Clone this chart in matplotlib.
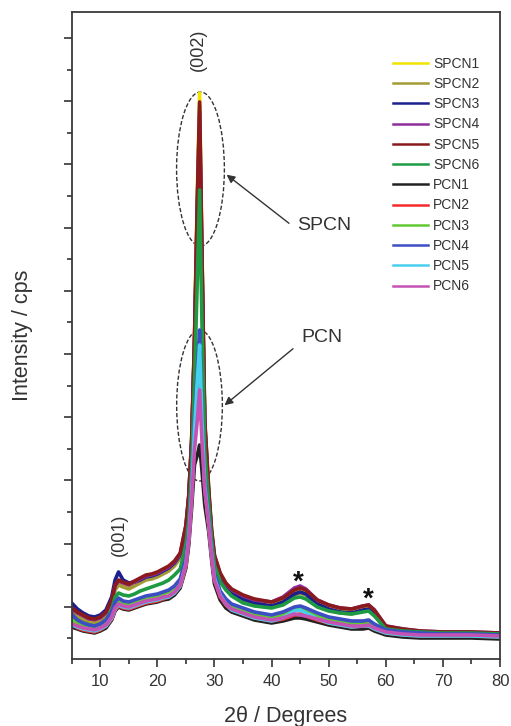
import matplotlib
matplotlib.use("Agg")
import matplotlib.pyplot as plt
from matplotlib.patches import Ellipse
from matplotlib.ticker import MultipleLocator, NullFormatter

plt.rcParams['font.family'] = ['Liberation Sans', 'DejaVu Sans']

# 2-theta grid (degrees), denser round the (002) peak
two_theta = [5, 6, 7, 8, 9, 10, 11, 12,
             12.6, 13.2,
             14, 15, 16, 17, 18, 19, 20, 21, 22, 23, 24,
             25, 25.5, 26, 26.5, 27, 27.4, 27.8, 28.3, 29, 29.5, 30,
             31, 32, 33, 35, 37, 40,
             42, 44, 45, 46, 48, 50,
             52, 54, 56, 57, 58, 60,
             63, 66, 70, 75, 80]

# intensities (cps)
spcn1 = [590, 550, 520, 490, 480, 500, 550, 670,
         820, 870,
         850, 830, 860, 890, 920, 930, 950, 980, 1010, 1060, 1140,
         1420, 1720, 2280, 3330, 4800, 5770, 4250, 2480, 1770, 1370, 1120,
         940, 840, 780, 720, 680, 650,
         690, 770, 790, 770, 670, 620,
         590, 580, 610, 620, 570, 420,
         390, 370, 360, 360, 350]
spcn2 = [570, 530, 500, 470, 460, 480, 530, 650,
         800, 850,
         830, 810, 840, 870, 900, 910, 930, 960, 990, 1040, 1120,
         1400, 1700, 2250, 3250, 4650, 5640, 4150, 2450, 1750, 1350, 1100,
         920, 820, 760, 700, 660, 630,
         670, 750, 770, 750, 650, 600,
         570, 560, 590, 600, 550, 410,
         380, 360, 350, 350, 340]
spcn3 = [670, 610, 570, 540, 530, 550, 600, 730,
         900, 980,
         900, 870, 880, 900, 930, 940, 960, 990, 1020, 1070, 1150,
         1420, 1720, 2270, 3250, 4550, 5400, 4050, 2420, 1740, 1350, 1110,
         930, 830, 770, 710, 670, 640,
         680, 760, 780, 760, 660, 610,
         580, 570, 600, 610, 570, 420,
         390, 370, 360, 360, 350]
spcn4 = [610, 570, 540, 510, 500, 520, 570, 690,
         840, 890,
         870, 850, 880, 910, 940, 950, 970, 1000, 1030, 1080, 1160,
         1440, 1740, 2290, 3290, 4680, 5580, 4180, 2480, 1790, 1390, 1140,
         960, 860, 800, 740, 700, 680,
         730, 820, 840, 810, 700, 650,
         620, 610, 640, 650, 600, 440,
         410, 390, 380, 380, 370]
spcn5 = [620, 580, 550, 520, 510, 530, 580, 700,
         850, 900,
         880, 860, 890, 920, 950, 960, 980, 1010, 1040, 1090, 1170,
         1450, 1750, 2300, 3300, 4700, 5680, 4200, 2500, 1800, 1400, 1150,
         970, 870, 810, 750, 710, 680,
         720, 800, 820, 800, 700, 650,
         620, 610, 640, 650, 600, 440,
         410, 390, 380, 380, 370]
spcn6 = [530, 500, 470, 450, 440, 460, 500, 600,
         730, 770,
         750, 740, 760, 790, 810, 830, 850, 870, 900, 950, 1010,
         1250, 1500, 2000, 2900, 3900, 4800, 3500, 2200, 1650, 1300, 1050,
         880, 800, 740, 670, 640, 620,
         650, 720, 730, 710, 630, 590,
         570, 560, 580, 590, 540, 410,
         390, 380, 370, 370, 360]
pcn1 = [430, 410, 390, 380, 370, 390, 420, 500,
        590, 630,
        610, 600, 620, 640, 660, 670, 680, 700, 710, 750, 820,
        1020, 1250, 1620, 2050, 2150, 2250, 2000, 1650, 1380, 1100, 860,
        700, 620, 580, 540, 500, 470,
        490, 520, 520, 510, 480, 450,
        430, 410, 410, 420, 390, 350,
        330, 320, 320, 320, 310]
pcn2 = [470, 420, 400, 390, 380, 400, 440, 510,
        600, 640,
        620, 610, 630, 650, 670, 680, 690, 710, 730, 770, 840,
        1040, 1300, 1720, 2300, 2750, 3100, 2450, 1820, 1440, 1140, 900,
        730, 650, 600, 560, 520, 490,
        510, 550, 560, 540, 500, 470,
        450, 430, 440, 440, 410, 370,
        350, 340, 340, 340, 330]
pcn3 = [500, 470, 450, 430, 420, 440, 480, 560,
        660, 690,
        670, 660, 680, 700, 720, 730, 740, 760, 780, 820, 890,
        1100, 1350, 1780, 2450, 2950, 3300, 2550, 1880, 1480, 1180, 940,
        770, 690, 640, 600, 560, 530,
        550, 610, 620, 600, 540, 500,
        480, 460, 470, 470, 440, 390,
        370, 360, 350, 350, 340]
pcn4 = [560, 500, 470, 450, 440, 460, 500, 580,
        680, 720,
        690, 680, 700, 720, 740, 750, 760, 780, 800, 840, 910,
        1120, 1380, 1800, 2500, 3000, 3400, 2600, 1900, 1500, 1200, 960,
        790, 710, 660, 620, 580, 550,
        580, 630, 640, 620, 570, 530,
        510, 490, 490, 500, 460, 400,
        380, 370, 360, 360, 350]
pcn5 = [450, 430, 410, 400, 390, 410, 440, 520,
        610, 650,
        630, 620, 640, 660, 680, 690, 700, 720, 730, 770, 840,
        1060, 1320, 1750, 2400, 2900, 3250, 2500, 1850, 1460, 1160, 920,
        750, 660, 600, 560, 520, 490,
        520, 590, 600, 570, 510, 470,
        450, 430, 440, 440, 410, 370,
        350, 340, 340, 340, 330]
pcn6 = [460, 440, 420, 410, 400, 420, 450, 530,
        620, 660,
        640, 630, 650, 670, 690, 700, 710, 730, 740, 780, 850,
        1050, 1300, 1700, 2200, 2500, 2800, 2300, 1800, 1450, 1150, 900,
        740, 660, 610, 570, 530, 500,
        520, 560, 550, 540, 510, 480,
        460, 440, 440, 450, 420, 380,
        360, 350, 350, 350, 340]

samples = ['SPCN1', 'SPCN2', 'SPCN3', 'SPCN4', 'SPCN5', 'SPCN6',
           'PCN1', 'PCN2', 'PCN3', 'PCN4', 'PCN5', 'PCN6']
curves = [spcn1, spcn2, spcn3, spcn4, spcn5, spcn6,
          pcn1, pcn2, pcn3, pcn4, pcn5, pcn6]
colors = ['#f2e200', '#a39b34', '#1c1f8e', '#8e2d9c', '#8a1a1e', '#1e9a42',
          '#222222', '#f42a2a', '#62c832', '#3c4ec4', '#48cfee', '#c452b4']

fig = plt.figure(figsize=(5.11, 7.26), dpi=100)
ax = fig.add_axes([0.1403, 0.0923, 0.8382, 0.8912])

for name, y, c in zip(samples, curves, colors):
    ax.plot(two_theta, y, color=c, lw=2.6, label=name)

ax.set_xlim(5, 80)
ax.set_ylim(110, 6580)

ax.xaxis.set_major_locator(MultipleLocator(10))
ax.xaxis.set_minor_locator(MultipleLocator(5))
ax.yaxis.set_major_locator(MultipleLocator(632))
ax.yaxis.set_minor_locator(MultipleLocator(316))
ax.yaxis.set_major_formatter(NullFormatter())
ax.tick_params(which='both', direction='out', top=False, right=False,
               color='#333333', width=1.2)
ax.tick_params(which='major', length=6, labelsize=12, pad=5, labelcolor='#333333')
ax.tick_params(which='minor', length=3.5)
for sp in ax.spines.values():
    sp.set_color('#3a3a3a')
    sp.set_linewidth(1.3)

ax.set_xlabel('2θ / Degrees', fontsize=15.5, color='#333333', labelpad=12)
ax.set_ylabel('Intensity / cps', fontsize=15.5, color='#333333', labelpad=17)

# peak labels and markers
ax.text(27.2, 6200, '(002)', rotation=90, ha='center', va='center', fontsize=13, color='#333333')
ax.text(13.4, 1350, '(001)', rotation=90, ha='center', va='center', fontsize=13, color='#333333')
ax.text(44.65, 870, '*', ha='center', va='center', fontsize=20, fontweight='bold', color='#111111')
ax.text(57.0, 700, '*', ha='center', va='center', fontsize=20, fontweight='bold', color='#111111')

# ellipses around the SPCN and PCN peak tops
ax.add_patch(Ellipse((27.55, 5010), 8.37, 1540, fill=False, ec='#333333', lw=1.0, ls=(0, (3, 1.5))))
ax.add_patch(Ellipse((27.38, 2645), 8.0, 1510, fill=False, ec='#333333', lw=1.0, ls=(0, (3, 1.5))))

arrow = dict(arrowstyle='-|>', color='#333333', lw=1.0, mutation_scale=12)
ax.annotate('', xy=(31.74, 4970), xytext=(43.43, 4450), arrowprops=arrow)
ax.annotate('', xy=(31.39, 2630), xytext=(44.12, 3230), arrowprops=arrow)
ax.text(44.47, 4440, 'SPCN', ha='left', va='center', fontsize=14, color='#333333')
ax.text(45.17, 3320, 'PCN', ha='left', va='center', fontsize=14, color='#333333')

leg = ax.legend(loc='upper left', bbox_to_anchor=(0.750, 0.931), frameon=False,
                fontsize=10, handlelength=2.5, handletextpad=0.4,
                labelspacing=0.45, borderpad=0, borderaxespad=0)
for t in leg.get_texts():
    t.set_color('#333333')
for h in leg.get_lines():
    h.set_linewidth(1.8)

fig.savefig('out.png', dpi=100)
